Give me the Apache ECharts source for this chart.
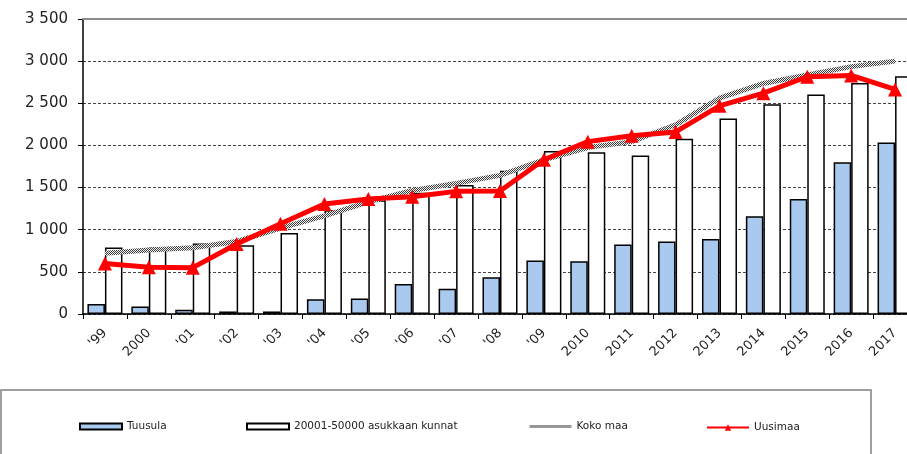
<!DOCTYPE html>
<html>
<head>
<meta charset="utf-8">
<script src="https://cdn.jsdelivr.net/npm/echarts@6/dist/echarts.min.js"></script>
<style>
html,body{margin:0;padding:0;background:#fff;overflow:hidden;}
#main{width:917px;height:454px;}
</style>
</head>
<body>
<div id="main"></div>
<script>
const categories = ["'99","2000","'01","'02","'03","'04","'05","'06","'07","'08","'09","2010","2011","2012","2013","2014","2015","2016","2017"];
const tuusula = [120, 90, 50, 30, 30, 175, 185, 355, 300, 435, 635, 625, 825, 860, 890, 1160, 1365, 1800, 2035];
const kunnat = [790, 790, 835, 815, 960, 1230, 1350, 1440, 1530, 1700, 1935, 1920, 1880, 2080, 2320, 2490, 2605, 2740, 2820];
const kokoMaa = [720, 760, 785, 860, 1020, 1165, 1330, 1465, 1550, 1645, 1830, 1975, 2045, 2245, 2560, 2735, 2835, 2935, 3000];
const uusimaa = [600, 555, 550, 830, 1070, 1305, 1365, 1390, 1455, 1460, 1830, 2045, 2115, 2160, 2470, 2620, 2815, 2830, 2665];
const yTicks = {min: 0, max: 3500, interval: 500};

// checker pattern for "Koko maa"
const pc = document.createElement('canvas');
pc.width = 2; pc.height = 2;
const pctx = pc.getContext('2d');
pctx.fillStyle = '#f2f2f2'; pctx.fillRect(0,0,2,2);
pctx.fillStyle = '#3c3c3c'; pctx.fillRect(0,0,1,1); pctx.fillRect(1,1,1,1);
const hatch = {image: pc, repeat: 'repeat'};

const chart = echarts.init(document.getElementById('main'), null, {renderer: 'canvas'});
const font = 'DejaVu Sans';
const legendBase = {
  orient: 'horizontal', top: 421, itemWidth: 42, itemHeight: 6, itemGap: 0, padding: 0,
  textStyle: {fontFamily: font, fontSize: 10.5, color: '#222'}, selectedMode: false
};
chart.setOption({
  animation: false,
  backgroundColor: '#fff',
  grid: {left: 83, top: 19, right: 0, bottom: 140, containLabel: false},
  graphic: [{
    type: 'rect', shape: {x: 1, y: 390, width: 870, height: 80},
    style: {fill: 'none', stroke: '#808080', lineWidth: 1.5}, z: 0
  }],
  legend: [
    Object.assign({}, legendBase, {left: 79, data: [{name: 'Tuusula', icon: 'rect'}]}),
    Object.assign({}, legendBase, {left: 246, data: [{name: '20001-50000 asukkaan kunnat', icon: 'rect'}]}),
    Object.assign({}, legendBase, {left: 528, data: [{name: 'Koko maa',
      itemStyle: {opacity: 0}, lineStyle: {color: hatch, width: 3}}]}),
    Object.assign({}, legendBase, {left: 706, top: 422, itemHeight: 8, data: ['Uusimaa']})
  ],
  xAxis: [{
    type: 'category', data: categories, boundaryGap: true,
    axisLine: {lineStyle: {color: '#000', width: 1.5}},
    axisTick: {show: true, length: 5, lineStyle: {color: '#000', width: 1}},
    axisLabel: {rotate: 45, margin: 17, fontFamily: font, fontSize: 13, color: '#222'}
  }, {
    type: 'category', data: categories, position: 'top', z: 5,
    axisLine: {lineStyle: {color: '#8c8c8c', width: 2}},
    axisTick: {show: false}, axisLabel: {show: false}
  }],
  yAxis: {
    type: 'value', min: yTicks.min, max: yTicks.max, interval: yTicks.interval, z: 0,
    axisLine: {show: true, lineStyle: {color: '#000', width: 1.5}},
    axisTick: {show: true, length: 5, lineStyle: {color: '#000'}},
    axisLabel: {margin: 15, fontFamily: font, fontSize: 15, color: '#222',
      formatter: v => String(v).replace(/\B(?=(\d{3})+(?!\d))/g, ' ')},
    splitLine: {show: true, lineStyle: {color: '#444', width: 1, type: [3, 2]}}
  },
  series: [
    {name: 'Tuusula', type: 'bar', data: tuusula, barWidth: 17.5, barGap: '0%',
     itemStyle: {color: '#a9c9ee', borderColor: '#000', borderWidth: 1.5}},
    {name: '20001-50000 asukkaan kunnat', type: 'bar', data: kunnat, barWidth: 17.5, barGap: '0%',
     itemStyle: {color: '#fff', borderColor: '#000', borderWidth: 1.5}},
    {name: 'Koko maa', type: 'line', data: kokoMaa, symbol: 'none', z: 3,
     lineStyle: {color: hatch, width: 5}, itemStyle: {color: '#777'}},
    {name: 'Uusimaa', type: 'line', data: uusimaa, symbol: 'triangle', symbolSize: 14, z: 4,
     lineStyle: {color: '#ff0000', width: 5}, itemStyle: {color: '#ff0000'}}
  ]
});
</script>
</body>
</html>
